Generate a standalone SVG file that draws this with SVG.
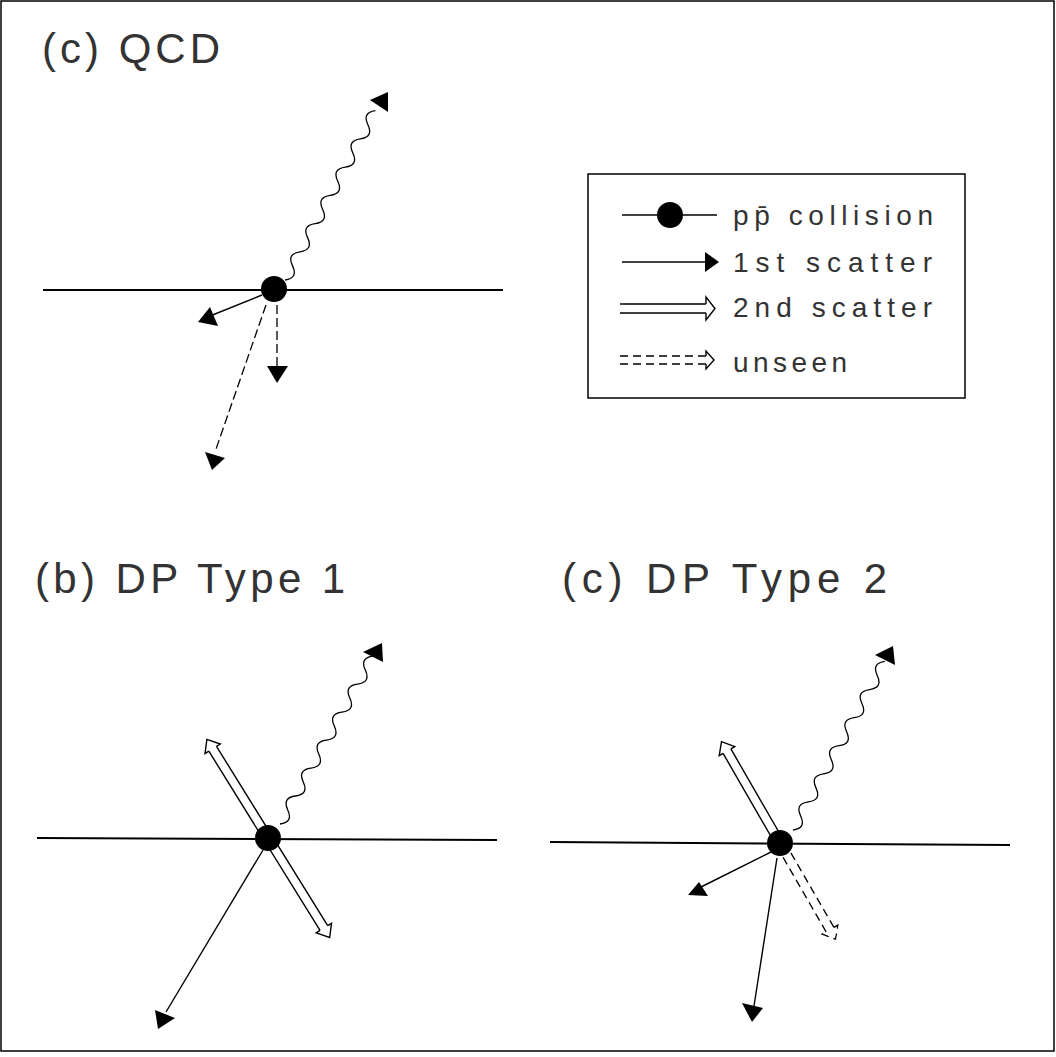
<svg xmlns="http://www.w3.org/2000/svg" width="1056" height="1057" viewBox="0 0 1056 1057">
<style>
  text { font-family: "Liberation Sans", Arial, sans-serif; fill: #333; }
  .title { font-size: 42px; }
  .leg { font-size: 28px; }
  .beam { stroke: #000; stroke-width: 2; fill: none; }
  .thin { stroke: #000; stroke-width: 1.4; fill: none; }
  .dash { stroke: #000; stroke-width: 1.3; fill: none; stroke-dasharray: 9 4; }
  .dbl { stroke: #000; stroke-width: 1.4; fill: none; }
  .dbld { stroke: #000; stroke-width: 1.3; fill: none; stroke-dasharray: 8 5; }
  .head { fill: #000; stroke: none; }
  .dot { fill: #000; }
</style>
<defs>
  <path id="wave" d="M0,0 q8,11 16,0 t16,0 t16,0 t16,0 t16,0 t16,0 t16,0 t16,0 t16,0 t16,0 t16,0 t16,0" fill="none" stroke="#000" stroke-width="1.3"/>
</defs>
<rect x="1" y="1" width="1053" height="1050" fill="#fff" stroke="#000" stroke-width="1.5"/>

<!-- Panel (a) QCD -->
<g id="panel-a">
  <text class="title" x="42" y="63" textLength="178" lengthAdjust="spacing">(c) QCD</text>
  <line class="beam" x1="43" y1="290" x2="503" y2="290"/>
  <g id="a-connectors">
    <use href="#wave" transform="translate(285,280) rotate(-61.9)"/>
    <polygon class="head" points="370,100 388,92 388,112"/>
    <line class="thin" x1="262" y1="295" x2="210" y2="316"/>
    <polygon class="head" points="198,322 210,307 218,326"/>
    <line class="dash" x1="277" y1="305" x2="277" y2="366"/>
    <polygon class="head" points="267,366 288,366 277,383"/>
    <line class="dash" x1="266" y1="305" x2="215" y2="452"/>
    <polygon class="head" points="205,452 225,458 212,470"/>
  </g>
  <circle id="a-collision" class="dot" cx="274" cy="289" r="13"/>
</g>

<!-- Legend -->
<g id="legend">
  <rect x="588" y="174" width="377" height="224" fill="none" stroke="#000" stroke-width="1.5"/>
  <line class="thin" x1="622" y1="215" x2="717" y2="215"/>
  <circle class="dot" cx="670" cy="215" r="13"/>
  <text class="leg" x="733" y="225" textLength="200" lengthAdjust="spacing">pp&#x0304; collision</text>
  <line class="thin" x1="622" y1="262" x2="707" y2="262"/>
  <polygon class="head" points="705,252 719,262 705,272"/>
  <text class="leg" x="733" y="272" textLength="199" lengthAdjust="spacing">1st scatter</text>
  <path class="dbl" d="M620,304 H706 M620,313 H706 M706,304 V297 L715,308.5 L706,320 V313"/>
  <text class="leg" x="733" y="317" textLength="199" lengthAdjust="spacing">2nd scatter</text>
  <path class="dbld" d="M620,356 H706 M620,364 H706"/>
  <path class="dbl" d="M706,356 V351 L714,360 L706,369 V364"/>
  <text class="leg" x="733" y="372" textLength="114" lengthAdjust="spacing">unseen</text>
</g>

<!-- Panel (b) DP Type 1 -->
<g id="panel-b">
  <text class="title" x="35" y="593" textLength="310" lengthAdjust="spacing">(b) DP Type 1</text>
  <line class="beam" x1="37" y1="838" x2="497" y2="840"/>
  <g id="b-connectors">
    <g transform="translate(268,838) rotate(58.2)">
      <path class="dbl" d="M-105,-4.5 H106 M-105,4.5 H106 M106,-4.5 V-9 L117,0 L106,9 V4.5 M-105,-4.5 V-9 L-116,0 L-105,9 V4.5"/>
    </g>
    <use href="#wave" transform="translate(280,824) rotate(-61)"/>
    <polygon class="head" points="363,652 382,643 383,662"/>
    <line class="thin" x1="263" y1="850" x2="166" y2="1012"/>
    <polygon class="head" points="155,1010 175,1018 158,1029"/>
  </g>
  <circle id="b-collision" class="dot" cx="268" cy="838" r="13"/>
</g>

<!-- Panel (c) DP Type 2 -->
<g id="panel-c">
  <text class="title" x="562" y="593" textLength="325" lengthAdjust="spacing">(c) DP Type 2</text>
  <line class="beam" x1="550" y1="842" x2="1010" y2="845"/>
  <g id="c-connectors">
    <g transform="translate(780,843) rotate(60)">
      <path class="dbl" d="M-106,-4.5 H0 M-106,4.5 H0 M-106,-4.5 V-9 L-117,0 L-106,9 V4.5"/>
      <path class="dbld" d="M14,-4.5 H100 M14,4.5 H100 M100,-4.5 V-9 L111,0 L100,9 V4.5"/>
    </g>
    <use href="#wave" transform="translate(793,830) rotate(-61.4)"/>
    <polygon class="head" points="875,655 893,646 895,665"/>
    <line class="thin" x1="775" y1="850" x2="699" y2="888"/>
    <polygon class="head" points="688,895 699,882 708,896"/>
    <line class="thin" x1="777" y1="858" x2="754" y2="1006"/>
    <polygon class="head" points="742,1003 763,1008 752,1022"/>
  </g>
  <circle id="c-collision" class="dot" cx="780" cy="843" r="13"/>
</g>
</svg>
